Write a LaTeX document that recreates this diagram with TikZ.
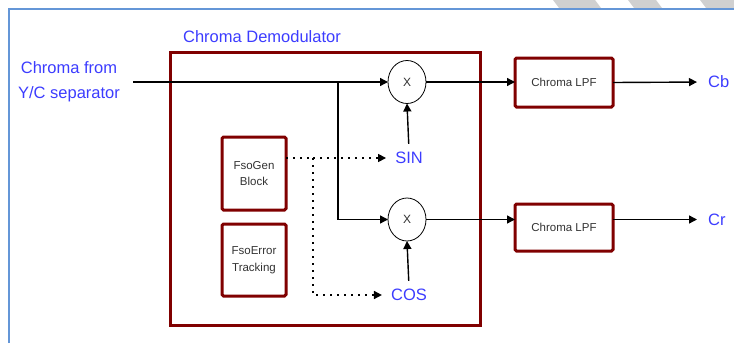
\documentclass[tikz,border=0pt]{standalone}
\usepackage{fontspec}
\setmainfont{Liberation Sans}
\usetikzlibrary{arrows.meta,shapes.geometric}
\definecolor{boxred}{RGB}{128,0,0}
\definecolor{lblue}{RGB}{60,60,255}
\definecolor{frameblue}{RGB}{100,150,215}
\definecolor{stripe}{RGB}{208,208,208}
\definecolor{smalltext}{RGB}{50,50,50}
\tikzset{
  bigbox/.style={draw=boxred,line width=3pt,minimum width=310pt,minimum height=273pt,outer sep=0pt,inner sep=0pt},
  redbox/.style={draw=boxred,line width=3pt,outer sep=0pt,inner sep=0pt,rounded corners=1.5pt,align=center,
                 font=\fontsize{11.5}{16.5}\selectfont,text=smalltext},
  mult/.style={draw,ellipse,line width=0.8pt,minimum width=38pt,minimum height=43pt,inner sep=0pt,outer sep=0pt,
               font=\fontsize{12}{14}\selectfont,text=smalltext},
  lbl/.style={text=lblue,font=\fontsize{16.5}{25}\selectfont,inner sep=2pt},
  arr/.style={line width=1.4pt,-{Triangle[length=8pt,width=8pt]}},
  dotw/.style={line width=1.6pt,dash pattern=on 2pt off 5pt},
}
\begin{document}
\begin{tikzpicture}[x=1pt,y=-1pt]
\useasboundingbox (0,0) rectangle (734,343);
% frame decoration
\begin{scope}
\clip (0,0) rectangle (734,7.5);
\fill[stripe] (553,0) -- (595,0) -- (601,8) -- (559,8) -- cycle;
\fill[stripe] (628,0) -- (656,0) -- (662,8) -- (634,8) -- cycle;
\fill[stripe] (700,0) -- (740,0) -- (746,8) -- (706,8) -- cycle;
\end{scope}
\draw[frameblue,line width=2pt] (8.5,343) -- (8.5,8.5) -- (734,8.5);

% demodulator
\node[bigbox] (demod) at (325,188.5) {};
\node[lbl] (title) at (262,37) {Chroma Demodulator};
\node[lbl,align=center] (inlbl) at (69,82) {Chroma from\\Y/C separator};

\node[mult] (m1) at (407,82) {X};
\node[mult] (m2) at (407,219.5) {X};

\node[redbox,minimum width=98pt,minimum height=49pt] (lpf1) at (564,82.5) {Chroma LPF};
\node[redbox,minimum width=98pt,minimum height=47pt] (lpf2) at (564,227.5) {Chroma LPF};

\node[lbl,anchor=west] (cb) at (706,82) {Cb};
\node[lbl,anchor=west] (cr) at (706,219.5) {Cr};

\node[redbox,minimum width=64pt,minimum height=73pt] (gen) at (254,173.5) {FsoGen\\Block};
\node[redbox,minimum width=64pt,minimum height=72pt] (err) at (254,260) {FsoError\\Tracking};

\node[lbl] (sin) at (409,158) {SIN};
\node[lbl] (cos) at (409,295) {COS};

% signal path
\coordinate (inp) at (133,82);
\coordinate (br) at (338,82);
\coordinate (dj) at (313,158);
\draw[arr] (inp) -- (m1.west);
\draw[arr] (br) |- (m2.west);
\draw[arr] (m1.east) -- (m1.east -| lpf1.west);
\draw[arr] (m2.east) -- (m2.east -| lpf2.west);
\draw[arr,shorten >=9pt] (lpf1.east) -- (cb.west);
\draw[arr,shorten >=9pt] (lpf2.east |- cr.west) -- (cr.west);
\draw[arr,shorten <=6pt] (sin.north) -- (m1.south);
\draw[arr,shorten <=6pt] (cos.north) -- (m2.south);

% dotted control lines
\draw[dotw] ([yshift=15.5pt]gen.east) -- (dj);
\draw[dotw,-{Triangle[length=8pt,width=8pt]},shorten >=7pt] (dj) -- (sin.west);
\draw[dotw,-{Triangle[length=8pt,width=8pt]},shorten >=7pt] (dj) |- (cos.west);
\end{tikzpicture}
\end{document}
